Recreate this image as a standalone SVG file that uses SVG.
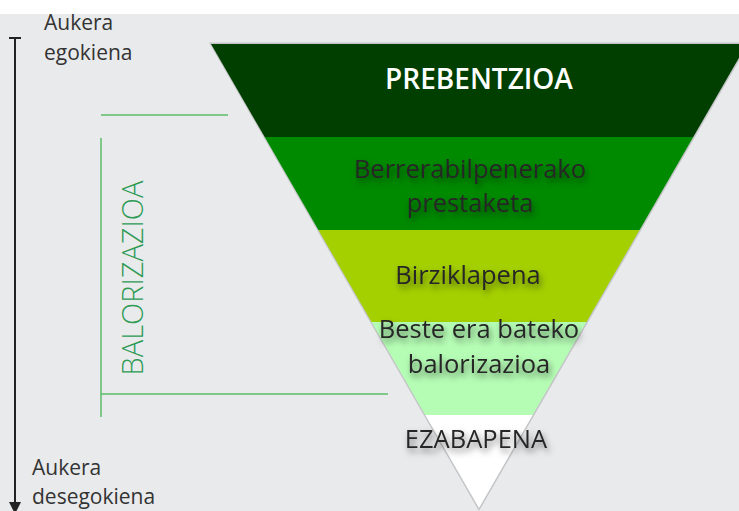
<svg xmlns="http://www.w3.org/2000/svg" width="739" height="511" viewBox="0 0 739 511">
<style>
.lbl{font-family:"Open Sans","Noto Sans","DejaVu Sans",sans-serif;font-size:25.5px;fill:#262626;text-anchor:middle}
.side{font-family:"Open Sans","Noto Sans","DejaVu Sans",sans-serif;font-size:21px;fill:#333333}
.gl{stroke:#5cbd6a;stroke-width:1.5;fill:none}
</style>
<defs>
<filter id="sh" x="-20%" y="-50%" width="140%" height="200%">
<feDropShadow dx="2" dy="4" stdDeviation="3" flood-color="#000" flood-opacity="0.5"/>
</filter>
<clipPath id="tri"><polygon points="211,44 747,44 479,508"/></clipPath>
</defs>
<rect x="0" y="0" width="739" height="511" fill="#e9eaec"/>
<rect x="0" y="0" width="739" height="14" fill="#ffffff"/>
<g id="axis">
<line x1="15" y1="38" x2="15" y2="503" stroke="#222" stroke-width="2"/>
<line x1="9" y1="38" x2="21" y2="38" stroke="#222" stroke-width="2"/>
<polygon points="9,502 21,502 15,514" fill="#222"/>
<text class="side" x="44" y="30">Aukera</text>
<text class="side" x="44" y="60">egokiena</text>
<text class="side" x="32" y="475">Aukera</text>
<text class="side" x="32" y="504">desegokiena</text>
</g>
<g id="balorizazioa">
<line class="gl" x1="101" y1="115" x2="228" y2="115"/>
<line class="gl" x1="101" y1="138" x2="101" y2="417"/>
<line class="gl" x1="101" y1="394" x2="388" y2="394"/>
<text x="0" y="0" transform="translate(143,278) rotate(-90)" font-family="'Open Sans','Noto Sans',sans-serif" font-weight="300" font-size="29" fill="#2e9b55" text-anchor="middle">BALORIZAZIOA</text>
</g>
<polygon points="209,42.5 749.5,42.5 479,511" fill="#c4c5c7"/>
<g clip-path="url(#tri)">
<g id="prebentzioa"><rect x="200" y="44" width="560" height="93" fill="#003f00"/></g>
<g id="berrerabilpena"><rect x="200" y="137" width="560" height="93" fill="#008a00"/></g>
<g id="birziklapena"><rect x="200" y="230" width="560" height="92" fill="#a4d000"/></g>
<g id="beste"><rect x="200" y="322" width="560" height="93" fill="#b5fdb5"/></g>
<g id="ezabapena"><rect x="200" y="415" width="560" height="100" fill="#ffffff"/></g>
</g>
<text x="479" y="89" font-family="'Open Sans','Noto Sans',sans-serif" font-weight="600" font-size="28" fill="#ffffff" text-anchor="middle">PREBENTZIOA</text>
<g filter="url(#sh)">
<text class="lbl" x="470" y="178">Berrerabilpenerako</text>
<text class="lbl" x="470" y="212">prestaketa</text>
<text class="lbl" x="468" y="284">Birziklapena</text>
<text class="lbl" x="479" y="338">Beste era bateko</text>
<text class="lbl" x="479" y="373">balorizazioa</text>
<text class="lbl" x="476" y="448">EZABAPENA</text>
</g>
</svg>
